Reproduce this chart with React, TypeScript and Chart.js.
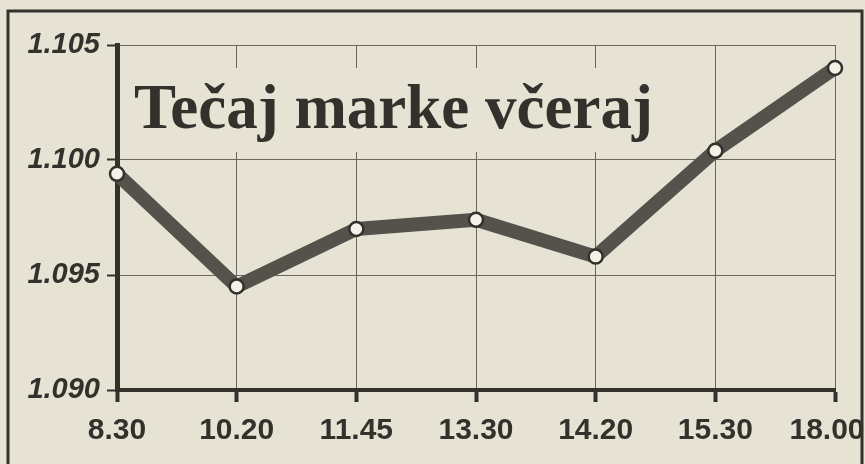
import React, { useEffect, useRef } from "react";
import { Chart, registerables } from "chart.js";

Chart.register(...registerables);

const categories = ["8.30", "10.20", "11.45", "13.30", "14.20", "15.30", "18.00"];
const rateValues = [1.0994, 1.0945, 1.0970, 1.0974, 1.0958, 1.1004, 1.1040];
const yTicks = [1.09, 1.095, 1.1, 1.105];
const chartTitle = "Tečaj marke včeraj";

const BG = "#e7e3d4";
const INK = "#34312c";

const decorPlugin = {
  id: "decor",
  beforeDraw(chart: any) {
    const { ctx, width, height } = chart;
    ctx.save();
    ctx.fillStyle = BG;
    ctx.fillRect(0, 0, width, height);
    ctx.strokeStyle = INK;
    ctx.lineWidth = 3;
    ctx.beginPath();
    ctx.moveTo(8, height);
    ctx.lineTo(8, 11);
    ctx.lineTo(862, 11);
    ctx.lineTo(862, height);
    ctx.stroke();
    ctx.restore();
    // keep the last x label inside the frame
    const xs = chart.scales.x;
    const items = xs.getLabelItems();
    if (items && items.length && !items.__shifted) {
      const last = items[items.length - 1];
      if (last.options && last.options.translation) last.options.translation[0] -= 8;
      items.__shifted = true;
    }
  },
  beforeDatasetsDraw(chart: any) {
    const { ctx, chartArea } = chart;
    ctx.save();
    ctx.fillStyle = BG;
    ctx.fillRect(chartArea.left + 3, 68, 545, 84);
    ctx.fillStyle = INK;
    ctx.font = "bold 63px 'Liberation Serif', 'Times New Roman', serif";
    ctx.textBaseline = "alphabetic";
    ctx.textAlign = "left";
    ctx.fillText(chartTitle, 134, 128);
    ctx.restore();
  },
};

export default function App() {
  const ref = useRef<HTMLCanvasElement | null>(null);
  useEffect(() => {
    if (!ref.current) return;
    const chart = new Chart(ref.current, {
      type: "line",
      data: {
        labels: categories,
        datasets: [
          {
            data: rateValues,
            borderColor: "#55524c",
            borderWidth: 14,
            tension: 0,
            pointRadius: 7,
            pointBorderWidth: 2.5,
            pointBackgroundColor: "#f4f1e8",
            pointBorderColor: INK,
            borderJoinStyle: "round",
            borderCapStyle: "round",
          },
        ],
      },
      options: {
        animation: false,
        responsive: false,
        devicePixelRatio: 1,
        layout: { padding: { top: 45, right: 30, left: 0, bottom: 0 } },
        plugins: { legend: { display: false }, tooltip: { enabled: false }, title: { display: false } },
        scales: {
          x: {
            type: "category",
            offset: false,
            grid: {
              display: true,
              color: "#6a665e",
              lineWidth: 1,
              tickColor: INK,
              tickWidth: 4,
              tickLength: 12,
              offset: false,
            },
            border: { display: true, color: INK, width: 4 },
            ticks: {
              color: INK,
              padding: 11,
              font: { family: "'Liberation Sans', Arial, sans-serif", size: 30, weight: "bold" },
              maxRotation: 0,
              autoSkip: false,
            },
            afterFit(scale: any) {
              scale.height = 74;
              scale.paddingLeft = 0;
              scale.paddingRight = 0;
            },
          },
          y: {
            min: 1.09,
            max: 1.105,
            afterBuildTicks(scale: any) {
              scale.ticks = yTicks.map((v) => ({ value: v }));
            },
            grid: {
              color: "#6a665e",
              lineWidth: 1,
              tickColor: INK,
              tickWidth: 2,
              tickLength: 10,
            },
            border: { display: true, color: INK, width: 5 },
            ticks: {
              color: INK,
              padding: 7,
              font: { family: "'Liberation Sans', Arial, sans-serif", size: 29, weight: "bold", style: "italic" },
              callback: (v: any) => Number(v).toFixed(3),
            },
            afterFit(scale: any) {
              scale.width = 117;
            },
          },
        },
      },
      plugins: [decorPlugin],
    });
    return () => chart.destroy();
  }, []);
  return (
    <div style={{ position: "fixed", left: 0, top: 0, width: 865, height: 464, background: BG }}>
      <canvas ref={ref} width={865} height={464} style={{ display: "block" }} />
    </div>
  );
}
